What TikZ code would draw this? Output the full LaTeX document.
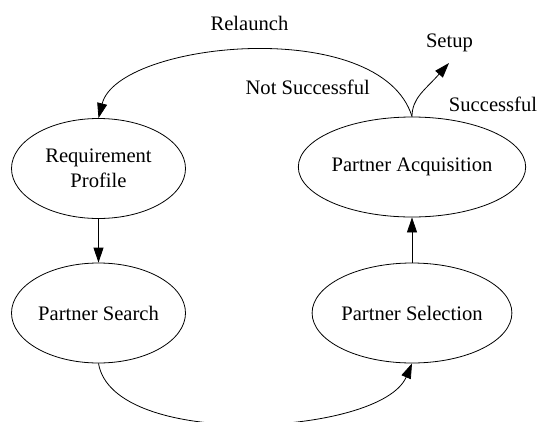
\documentclass[tikz,border=0pt]{standalone}
\usepackage{fontspec}
\setmainfont{Liberation Serif}
\usetikzlibrary{shapes.geometric,arrows.meta}
\begin{document}
\begin{tikzpicture}[x=1pt,y=-1pt,
  state/.style={draw,ellipse,line width=0.8pt,minimum width=174pt,minimum height=100pt,inner sep=0pt,align=center,font=\fontsize{20.6}{25.5}\selectfont},
  lbl/.style={font=\fontsize{20.6}{24}\selectfont,inner sep=0pt},
  conn/.style={line width=0.8pt,-{Triangle[length=15pt,width=10pt]}}]
\useasboundingbox (0,0) rectangle (538,421);
\begin{scope}
\clip (0,0) rectangle (538,421);
\node[state] (rp) at (98.5,168.5) {Requirement\\Profile};
\node[state] (ps) at (98.5,313) {Partner Search};
\node[state] (sel) at (412,313) {Partner Selection};
\node[state] (acq) at (412,167) {Partner Acquisition};
\coordinate (setup) at (449,63);
\node[lbl] (relaunch) at (249.5,23) {Relaunch};
\node[lbl] (notsucc) at (307.7,87.5) {Not Successful};
\node[lbl] (setuplbl) at (449.5,43) {Setup};
\node[lbl] (succ) at (493,104) {Successful};
\draw[conn] (rp.south) -- (ps.north);
\draw[conn] (sel.north) -- (acq.south);
\draw[conn] (ps.south) .. controls (113,450) and (381,436) .. (sel.south);
\draw[conn] (acq.north) .. controls (381,15) and (118,41) .. (rp.north);
\draw[conn] (acq.north) .. controls (412,98) and (425,90) .. (setup);
\end{scope}
\end{tikzpicture}
\end{document}
